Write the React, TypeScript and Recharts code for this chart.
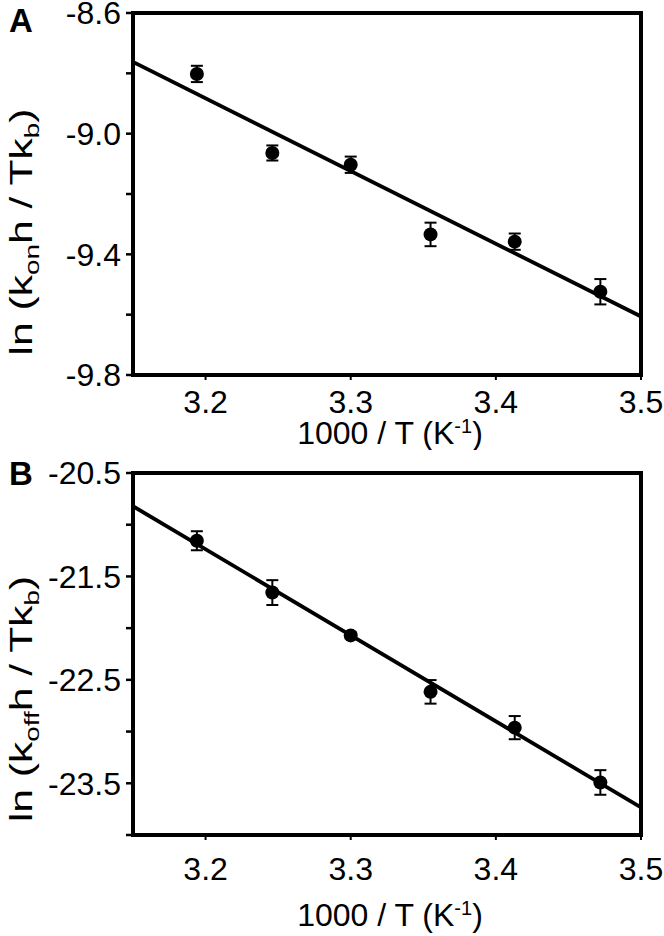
import React from 'react';
import { ScatterChart, Scatter, XAxis, YAxis, ErrorBar, ReferenceArea, Label } from 'recharts';

// 1000 / T for 40, 35, 30, 25, 20 and 15 °C
const invTemp = [3.194, 3.246, 3.3, 3.355, 3.413, 3.472];

// panel A: ln(kon h / T kb)
const lnKon = [-8.802, -9.064, -9.103, -9.334, -9.358, -9.524];
const lnKonErr = [0.027, 0.025, 0.027, 0.039, 0.027, 0.042];

// panel B: ln(koff h / T kb)
const lnKoff = [-21.155, -21.656, -22.07, -22.616, -22.962, -23.492];
const lnKoffErr = [0.092, 0.12, 0.03, 0.114, 0.112, 0.119];

// linear fits, evaluated at the ends of the x range
const fitX = [3.15, 3.5];
const fitKon = [-8.762, -9.606];
const fitKoff = [-20.821, -23.733];

const xTicks = [3.2, 3.3, 3.4, 3.5];
const yTicksOn = [-9.8, -9.6, -9.4, -9.2, -9.0, -8.8, -8.6];
const yLabelsOn = [-9.8, -9.4, -9.0, -8.6];
const yTicksOff = [-24, -23.5, -23, -22.5, -22, -21.5, -21, -20.5];
const yLabelsOff = [-23.5, -22.5, -21.5, -20.5];

const FONT = '"Liberation Sans", Arial, Helvetica, sans-serif';
const FS = 32;
const PLOT_H = 362;

const Dot = (props: any) => {
  const { cx, cy } = props;
  if (cx == null || cy == null) return <g />;
  return <circle cx={cx} cy={cy} r={7} fill="#000" />;
};
const NoDot = () => <g />;

type PanelProps = {
  letter: string;
  sub: string;
  ys: number[];
  errs: number[];
  fit: number[];
  yDomain: [number, number];
  yTicks: number[];
  yLabels: number[];
  chartHeight: number;
  marginTop: number;
  xAxisHeight: number;
  tickGap: number;
  xLabelDy: number;
  letterY: number;
  yLabelShift: number;
};

function Panel(p: PanelProps) {
  const pts = invTemp.map((x, i) => ({ x, y: p.ys[i], err: p.errs[i] }));
  const line = fitX.map((x, i) => ({ x, y: p.fit[i] }));
  const marginBottom = p.chartHeight - p.marginTop - PLOT_H - p.xAxisHeight;

  const xLabel = (props: any) => {
    const vb = props.viewBox;
    return (
      <text x={vb.x + vb.width / 2 + 3} y={vb.y + p.xLabelDy} textAnchor="middle" fontSize={FS} fontFamily={FONT} fill="#000">
        1000 / T (K<tspan dy={-11} fontSize={20}>-1</tspan><tspan dy={11}>)</tspan>
      </text>
    );
  };

  const yLabel = (props: any) => {
    const vb = props.viewBox;
    const cy = vb.y + vb.height / 2 + p.yLabelShift;
    return (
      <g>
        <text x={9} y={p.letterY} fontSize={33} fontWeight="bold" fontFamily={FONT} fill="#000">{p.letter}</text>
        <text transform={`translate(32,${cy}) rotate(-90) scale(1.33,1)`} textAnchor="middle" fontSize={FS} fontFamily={FONT} fill="#000">
          ln (k<tspan dy={7} fontSize={21}>{p.sub}</tspan>
          <tspan dy={-7}>h / Tk</tspan>
          <tspan dy={7} fontSize={21}>b</tspan>
          <tspan dy={-7}>)</tspan>
        </text>
      </g>
    );
  };

  const yFmt = (v: number) => (p.yLabels.some((l) => Math.abs(l - v) < 1e-6) ? v.toFixed(1) : '');

  return (
    <ScatterChart width={664} height={p.chartHeight} margin={{ top: p.marginTop, right: 23, bottom: marginBottom, left: 0 }}>
      <XAxis
        type="number"
        dataKey="x"
        domain={[3.15, 3.5]}
        ticks={xTicks}
        allowDataOverflow
        height={p.xAxisHeight}
        tickSize={5}
        tickMargin={p.tickGap}
        axisLine={{ stroke: '#000', strokeWidth: 4 }}
        tickLine={{ stroke: '#000', strokeWidth: 2 }}
        tick={{ fill: '#000', fontSize: FS, fontFamily: FONT }}
        tickFormatter={(v: number) => v.toFixed(1)}
      >
        <Label content={xLabel} />
      </XAxis>
      <YAxis
        type="number"
        dataKey="y"
        domain={p.yDomain}
        ticks={p.yTicks}
        allowDataOverflow
        interval={0}
        width={133}
        tickSize={7}
        tickMargin={5}
        axisLine={{ stroke: '#000', strokeWidth: 4 }}
        tickLine={{ stroke: '#000', strokeWidth: 2.5 }}
        tick={{ fill: '#000', fontSize: FS, fontFamily: FONT }}
        tickFormatter={yFmt}
      >
        <Label content={yLabel} />
      </YAxis>
      <ReferenceArea
        x1={3.15}
        x2={3.5}
        y1={p.yDomain[0]}
        y2={p.yDomain[1]}
        fill="none"
        fillOpacity={0}
        stroke="#000"
        strokeWidth={4}
        ifOverflow="visible"
      />
      <Scatter data={line} line={{ stroke: '#000', strokeWidth: 3.8 }} shape={NoDot} isAnimationActive={false} />
      <Scatter data={pts} shape={Dot} fill="#000" isAnimationActive={false}>
        <ErrorBar dataKey="err" direction="y" width={6} stroke="#000" strokeWidth={2} isAnimationActive={false} />
      </Scatter>
    </ScatterChart>
  );
}

export default function App() {
  return (
    <div style={{ position: 'absolute', left: 0, top: 0, width: 664, height: 936, background: '#fff' }}>
      <div style={{ position: 'absolute', left: 0, top: 0 }}>
        <Panel
          letter="A"
          sub="on"
          ys={lnKon}
          errs={lnKonErr}
          fit={fitKon}
          yDomain={[-9.8, -8.6]}
          yTicks={yTicksOn}
          yLabels={yLabelsOn}
          chartHeight={450}
          marginTop={13}
          xAxisHeight={62}
          tickGap={10}
          xLabelDy={69}
          letterY={32}
          yLabelShift={38}
        />
      </div>
      <div style={{ position: 'absolute', left: 0, top: 450 }}>
        <Panel
          letter="B"
          sub="off"
          ys={lnKoff}
          errs={lnKoffErr}
          fit={fitKoff}
          yDomain={[-24, -20.5]}
          yTicks={yTicksOff}
          yLabels={yLabelsOff}
          chartHeight={486}
          marginTop={23}
          xAxisHeight={90}
          tickGap={17}
          xLabelDy={91}
          letterY={35}
          yLabelShift={45}
        />
      </div>
    </div>
  );
}
